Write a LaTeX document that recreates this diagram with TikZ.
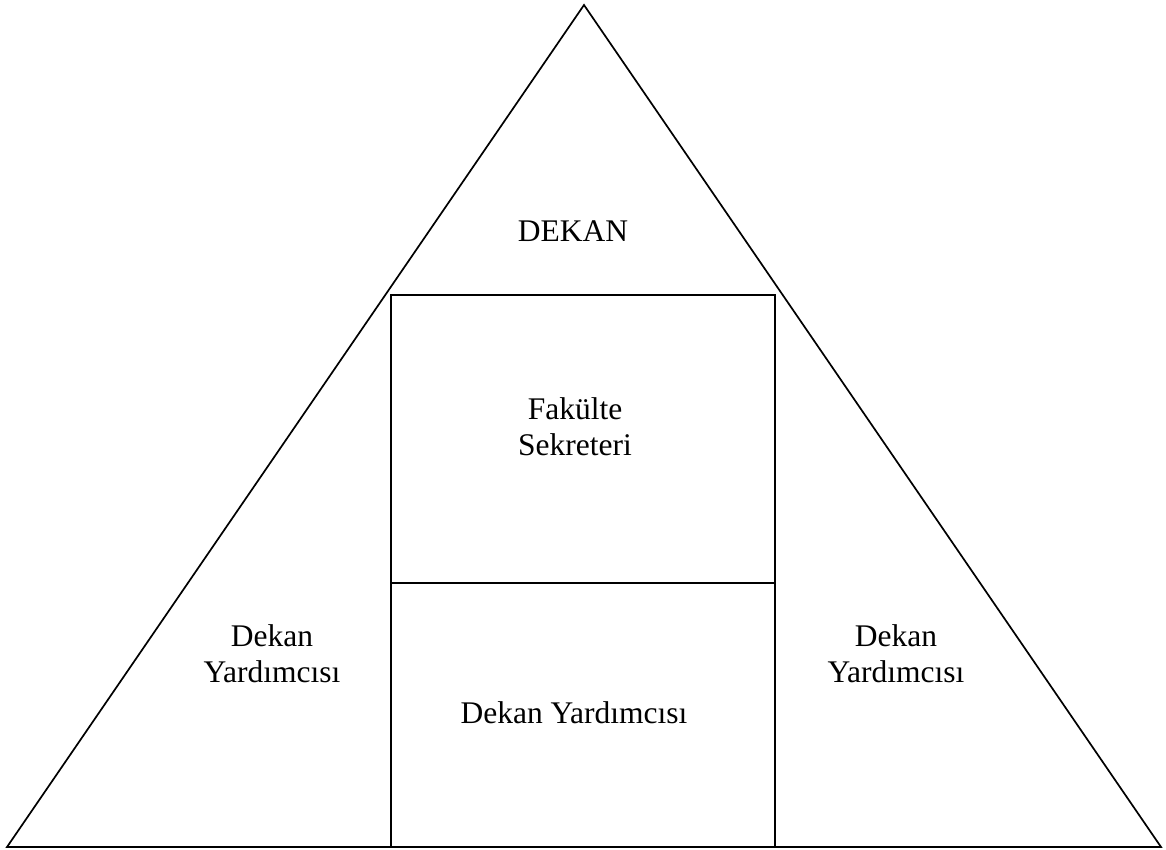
\documentclass[tikz,border=0pt]{standalone}
\usepackage{fontspec}
\setmainfont{Liberation Serif}
\begin{document}
\begin{tikzpicture}[x=1pt,y=-1pt,
  edge/.style={line width=1.7pt,line join=miter},
  lbl/.style={font=\fontsize{31.5}{36}\selectfont,align=center,inner sep=0pt,anchor=base}]
\useasboundingbox (0,0) rectangle (1166,850);
\coordinate (apex) at (584,5);
\coordinate (bl) at (7,847);
\coordinate (br) at (1161,847);
\coordinate (rtl) at (391,295);
\coordinate (rtr) at (775,295);
\coordinate (rml) at (391,583);
\coordinate (rmr) at (775,583);
\coordinate (rbl) at (391,847);
\coordinate (rbr) at (775,847);
\draw[edge] (bl) -- (apex) -- (br) -- cycle;
\draw[edge] (rbl) -- (rtl) -- (rtr) -- (rbr);
\draw[edge] (rml) -- (rmr);
\node[lbl] (dekan) at (573,241) {DEKAN};
\node[lbl] (sekreter) at (575,455) {Fakülte\\Sekreteri};
\node[lbl] (dyl) at (272,682) {Dekan\\Yardımcısı};
\node[lbl] (dyr) at (896,682) {Dekan\\Yardımcısı};
\node[lbl] (dyc) at (574,723) {Dekan Yardımcısı};
\end{tikzpicture}
\end{document}
